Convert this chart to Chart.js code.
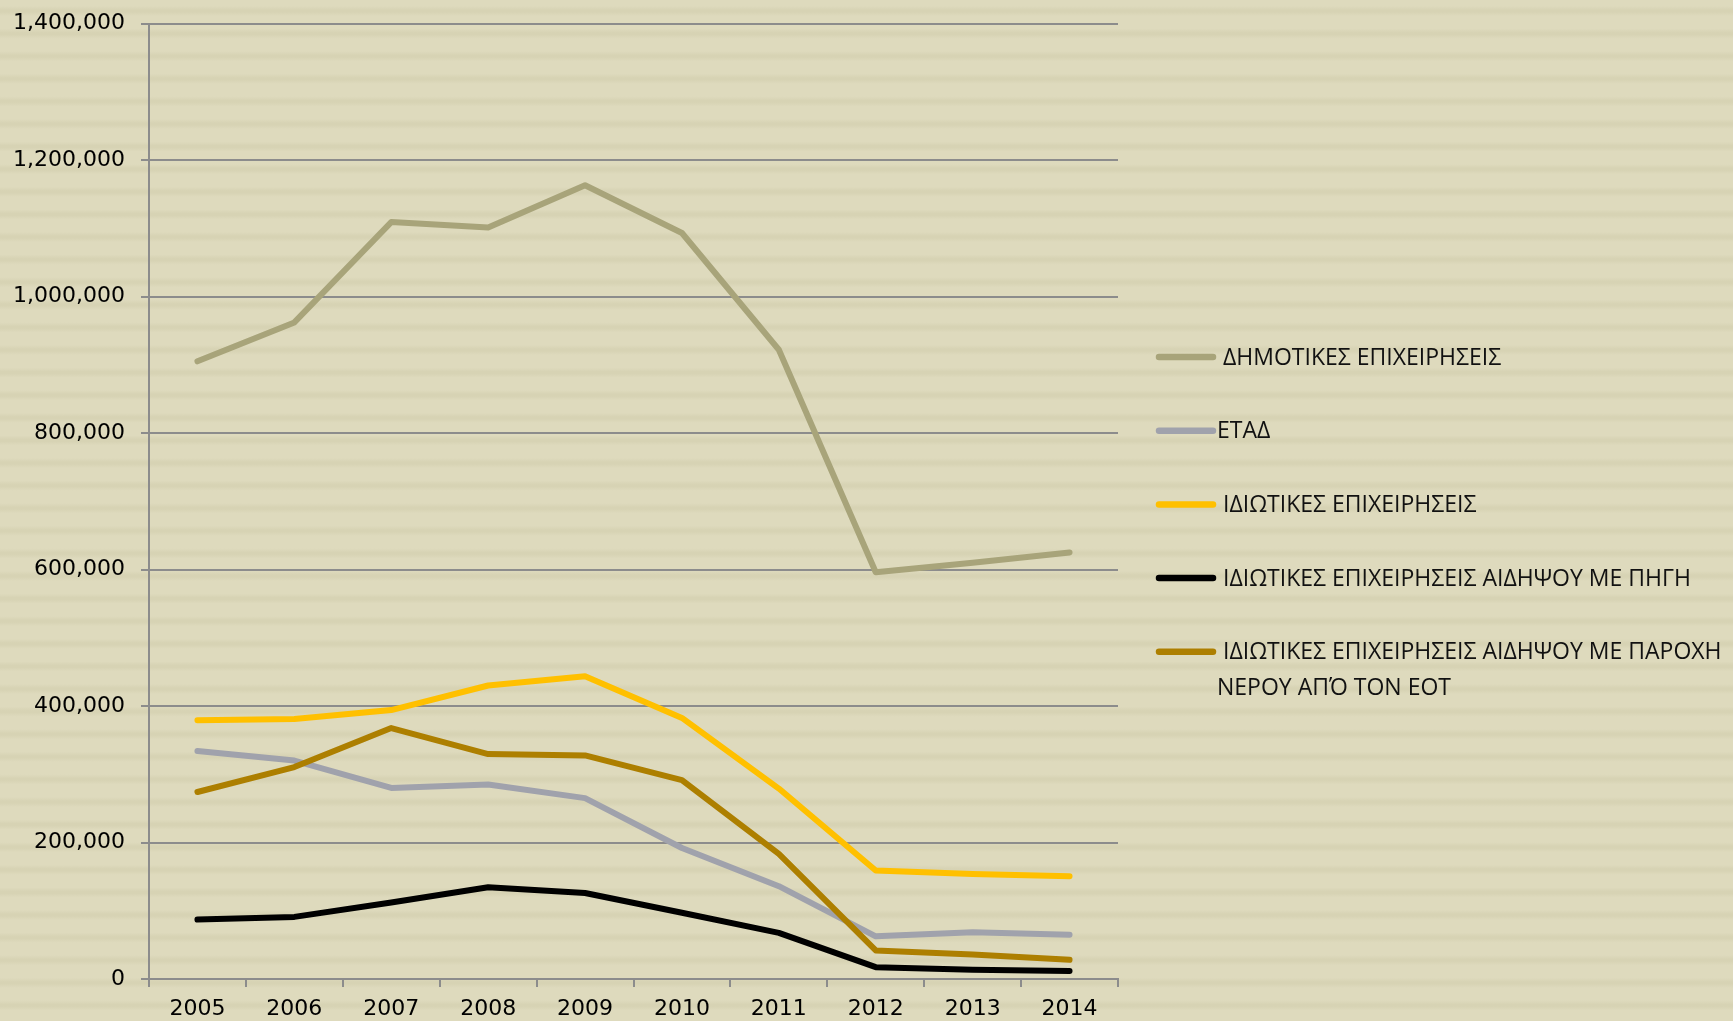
<!DOCTYPE html>
<html>
<head>
<meta charset="utf-8">
<script src="https://cdn.jsdelivr.net/npm/chart.js@4/dist/chart.umd.min.js"></script>
<style>
  html, body { margin: 0; padding: 0; }
  body {
    width: 1733px; height: 1021px; overflow: hidden;
    background-color: #DEDABD;
    background-image: repeating-linear-gradient(to bottom,
      #DEDABD 0px, #DEDABD 6px, #D7D3B4 10px, #D7D3B4 12px, #DEDABD 16px, #DEDABD 22.6px);
  }
  #wrap { position: absolute; left: 0; top: 0; width: 1733px; height: 1021px; }
</style>
</head>
<body>
<div id="wrap"><canvas id="c" width="1733" height="1021"></canvas></div>
<script>
const years = ['2005','2006','2007','2008','2009','2010','2011','2012','2013','2014'];
const dimotikes = [905000, 962000, 1109000, 1101000, 1163000, 1093000, 922000, 596000, 610000, 625000];
const etad = [334000, 320000, 280000, 285000, 265000, 192000, 136000, 62500, 68500, 65000];
const idiotikes = [379000, 381000, 394000, 430000, 443500, 382500, 279000, 159000, 154000, 150700];
const aidipsouPigi = [87000, 91000, 112000, 134500, 126000, 97000, 67500, 17300, 13400, 11900];
const aidipsouEot = [274000, 310500, 367700, 329600, 327600, 291500, 183400, 41800, 36000, 28200];

const seriesNames = [
  [' ΔΗΜΟΤΙΚΕΣ ΕΠΙΧΕΙΡΗΣΕΙΣ'],
  ['ΕΤΑΔ'],
  [' ΙΔΙΩΤΙΚΕΣ ΕΠΙΧΕΙΡΗΣΕΙΣ'],
  [' ΙΔΙΩΤΙΚΕΣ ΕΠΙΧΕΙΡΗΣΕΙΣ ΑΙΔΗΨΟΥ ΜΕ ΠΗΓΗ'],
  [' ΙΔΙΩΤΙΚΕΣ ΕΠΙΧΕΙΡΗΣΕΙΣ ΑΙΔΗΨΟΥ ΜΕ ΠΑΡΟΧΗ', 'ΝΕΡΟΥ ΑΠΌ ΤΟΝ ΕΟΤ']
];
const seriesColors = ['#A8A47A', '#A0A2AC', '#FFC000', '#000000', '#AD7F00'];
const seriesData = [dimotikes, etad, idiotikes, aidipsouPigi, aidipsouEot];
const yTicks = [0, 200000, 400000, 600000, 800000, 1000000, 1200000, 1400000];

const gridColor = '#8C8C8C';
const tickFont = { family: 'DejaVu Sans', size: 22 };

const legendPlugin = {
  id: 'sideLegend',
  afterDraw(chart) {
    const ctx = chart.ctx;
    ctx.save();
    const x0 = 1159, x1 = 1213;
    let y = 357;
    chart.data.datasets.forEach((ds, i) => {
      ctx.strokeStyle = ds.borderColor;
      ctx.lineWidth = 6.5;
      ctx.lineCap = 'round';
      ctx.beginPath();
      ctx.moveTo(x0, y);
      ctx.lineTo(x1, y);
      ctx.stroke();
      ctx.fillStyle = '#111';
      ctx.font = '23px "Open Sans"';
      ctx.textBaseline = 'middle';
      ds.label.forEach((line, j) => {
        ctx.fillText(line, 1217, y + 1 + j * 36);
      });
      y += 73.7;
    });
    ctx.restore();
  }
};

const datasets = seriesData.map((d, i) => ({
  label: seriesNames[i],
  data: d,
  borderColor: seriesColors[i],
  backgroundColor: seriesColors[i],
  borderWidth: 6,
  pointRadius: 0,
  pointHoverRadius: 0,
  tension: 0,
  fill: false,
  borderCapStyle: 'round',
  borderJoinStyle: 'round',
  order: 5 - i
}));

new Chart(document.getElementById('c'), {
  type: 'line',
  data: { labels: years, datasets: datasets },
  options: {
    responsive: false,
    animation: false,
    events: [],
    layout: { padding: { left: 0, top: 23.5, right: 615, bottom: 0 } },
    plugins: { legend: { display: false }, tooltip: { enabled: false } },
    scales: {
      x: {
        type: 'category',
        offset: true,
        grid: { display: true, offset: true, drawOnChartArea: false, drawTicks: true, tickLength: 8, color: gridColor, lineWidth: 2 },
        border: { display: true, color: gridColor, width: 2 },
        ticks: { color: '#000', font: tickFont, padding: 9, maxRotation: 0, autoSkip: false },
        afterFit(scale) { scale.height = 42; scale.paddingLeft = 0; scale.paddingRight = 0; }
      },
      y: {
        min: 0, max: 1400000,
        afterBuildTicks(scale) { scale.ticks = yTicks.map(v => ({ value: v })); },
        grid: { color: gridColor, lineWidth: 2, drawTicks: true, tickLength: 8 },
        border: { display: true, color: gridColor, width: 2 },
        ticks: {
          color: '#000', font: tickFont, padding: 16,
          callback: v => Number(v).toLocaleString('en-US')
        },
        afterFit(scale) { scale.width = 149; scale.paddingTop = 0; scale.paddingBottom = 0; }
      }
    }
  },
  plugins: [legendPlugin]
});
</script>
</body>
</html>
